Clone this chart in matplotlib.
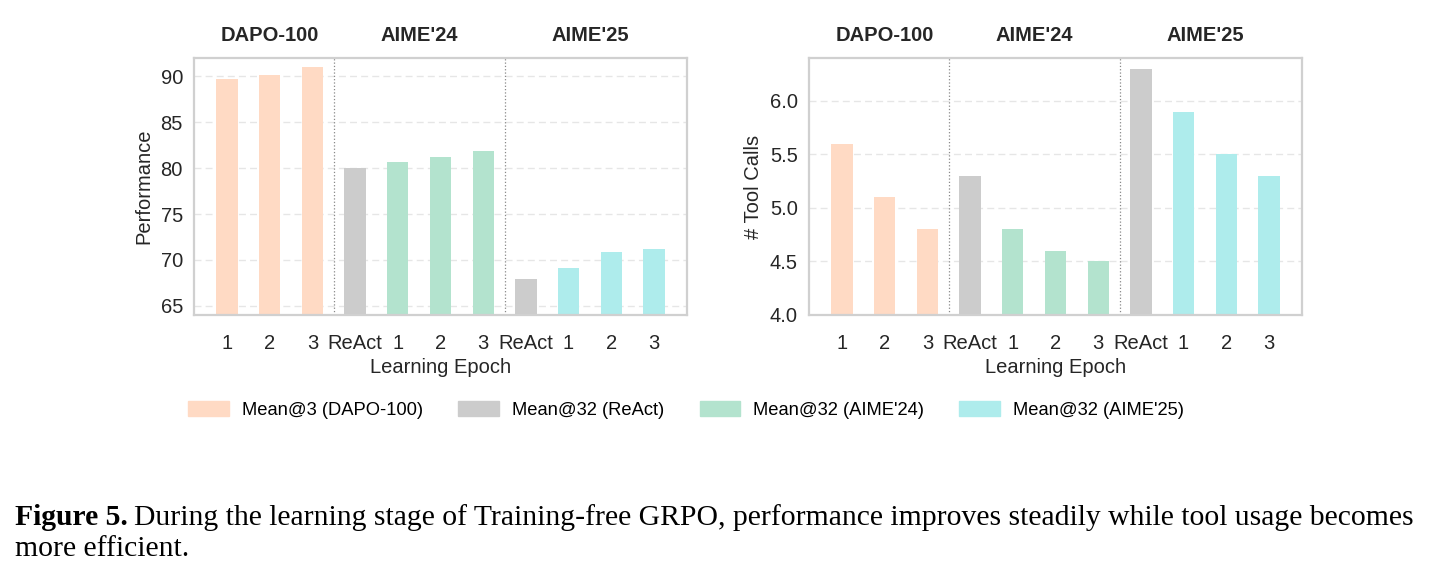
import matplotlib
matplotlib.use('Agg')
import matplotlib.pyplot as plt
from matplotlib.patches import Patch
import numpy as np

# data
tick_labels = ['1', '2', '3', 'ReAct', '1', '2', '3', 'ReAct', '1', '2', '3']
groups = ['DAPO-100', "AIME'24", "AIME'25"]
performance = [89.7, 90.1, 91.0, 80.0, 80.7, 81.2, 81.9, 67.9, 69.1, 70.9, 71.2]
tool_calls = [5.6, 5.1, 4.8, 5.3, 4.8, 4.6, 4.5, 6.3, 5.9, 5.5, 5.3]
bar_kind = ['dapo', 'dapo', 'dapo', 'react', 'a24', 'a24', 'a24', 'react', 'a25', 'a25', 'a25']
legend_labels = ['Mean@3 (DAPO-100)', 'Mean@32 (ReAct)', "Mean@32 (AIME'24)", "Mean@32 (AIME'25)"]

colors = {'dapo': '#FFDAC4', 'react': '#CCCCCC', 'a24': '#B3E3CE', 'a25': '#AEECEC'}

plt.rcParams['font.family'] = ['Liberation Sans', 'DejaVu Sans']

fig = plt.figure(figsize=(14.34, 5.79), dpi=100)
W, H = 1434, 579
ax1 = fig.add_axes([194 / W, 1 - 315 / H, 493 / W, 257 / H])
ax2 = fig.add_axes([809 / W, 1 - 315 / H, 493 / W, 257 / H])

FS = 14.5


def draw_panel(ax, values, ylabel, ylim, yticks, fmt):
    x = np.arange(len(values))
    ax.bar(x, values, width=0.5, color=[colors[k] for k in bar_kind], zorder=2)
    ax.set_xlim(-0.775, len(values) - 0.225)
    ax.set_ylim(*ylim)
    ax.set_yticks(yticks)
    ax.set_yticklabels([fmt.format(v) for v in yticks])
    ax.set_xticks(x)
    ax.set_xticklabels(tick_labels)
    ax.tick_params(axis='both', length=0, labelsize=FS, colors='#262626')
    ax.tick_params(axis='x', pad=14)
    ax.tick_params(axis='y', pad=8)
    ax.set_xlabel('Learning Epoch', fontsize=FS, color='#262626', labelpad=3)
    ax.set_ylabel(ylabel, fontsize=FS, color='#262626', labelpad=5)
    ax.yaxis.grid(True, linestyle=(0, (5, 3)), color='#E6E6E6', linewidth=1.0, zorder=0)
    ax.set_axisbelow(True)
    for s in ax.spines.values():
        s.set_color('#D0D0D0')
        s.set_linewidth(1.6)
    for sep in [2.5, 6.5]:
        ax.axvline(sep, color='#888888', linestyle=':', linewidth=0.9, zorder=1)
    for name, cx in zip(groups, [1, 4.5, 8.5]):
        ax.text(cx, 1.05, name, transform=ax.get_xaxis_transform(), ha='center', va='bottom',
                fontsize=FS, fontweight='bold', color='#262626')


draw_panel(ax1, performance, 'Performance', (64, 92), [65, 70, 75, 80, 85, 90], '{:.0f}')
draw_panel(ax2, tool_calls, '# Tool Calls', (4.0, 6.4), [4.0, 4.5, 5.0, 5.5, 6.0], '{:.1f}')

handles = [Patch(color=colors[k]) for k in ['dapo', 'react', 'a24', 'a25']]
fig.legend(handles, legend_labels, loc='center', bbox_to_anchor=(686 / W, 1 - 410 / H), ncol=4,
           frameon=False, fontsize=13.2, handlelength=2.2, handleheight=0.9, columnspacing=1.95,
           handletextpad=0.7)

# caption
renderer = fig.canvas.get_renderer()
cap_font = dict(family=['Liberation Serif', 'DejaVu Serif'], fontsize=21.3, color='black')
t1 = fig.text(15 / W, 1 - 525 / H, 'Figure 5.', fontweight='bold', va='baseline', **cap_font)
bb = t1.get_window_extent(renderer)
fig.text((bb.x1 + 6) / W, 1 - 525 / H,
         'During the learning stage of Training-free GRPO, performance improves steadily while tool usage becomes',
         va='baseline', **cap_font)
fig.text(15 / W, 1 - 556 / H, 'more efficient.', va='baseline', **cap_font)

fig.savefig('out.png', dpi=100)
